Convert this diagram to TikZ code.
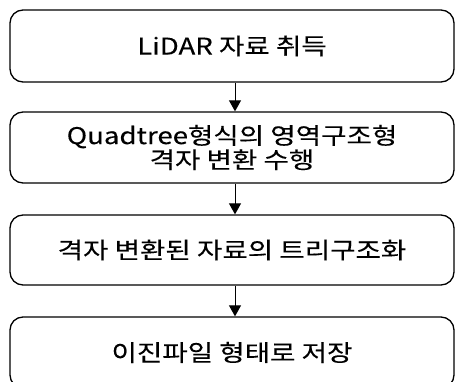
\documentclass[tikz,border=0pt]{standalone}
\usepackage{fontspec}
\setmainfont{Noto Sans CJK KR}[FakeStretch=1.2, FakeBold=0.2]
\usetikzlibrary{arrows.meta}
\tikzset{
  stepbox/.style={draw=black, line width=1.3pt, rounded corners=13pt,
    minimum width=444pt, inner sep=0pt, align=center,
    font=\fontsize{23}{22}\selectfont},
  flow/.style={draw=black, line width=1pt, -{Triangle[width=12pt,length=11pt]}}
}
\begin{document}
\begin{tikzpicture}[x=1pt,y=1pt]
\useasboundingbox (0,0) rectangle (455,-382);
\clip (0,0) rectangle (455,-382);
\node[stepbox, minimum height=72pt] (b1) at (232,-46) {\raisebox{-10pt}{LiDAR 자료 취득}};
\node[stepbox, minimum height=71pt] (b2) at (232,-147.5) {Quadtree형식의 영역구조형\\격자 변환 수행};
\node[stepbox, minimum height=70pt] (b3) at (232,-250) {격자 변환된 자료의 트리구조화};
\node[stepbox, minimum height=71pt] (b4) at (232,-352.5) {\raisebox{-6pt}{이진파일 형태로 저장}};
\draw[flow] ([xshift=3pt]b1.south) -- ([xshift=3pt]b2.north);
\draw[flow] ([xshift=3pt]b2.south) -- ([xshift=3pt]b3.north);
\draw[flow] ([xshift=3pt]b3.south) -- ([xshift=3pt]b4.north);
\end{tikzpicture}
\end{document}
